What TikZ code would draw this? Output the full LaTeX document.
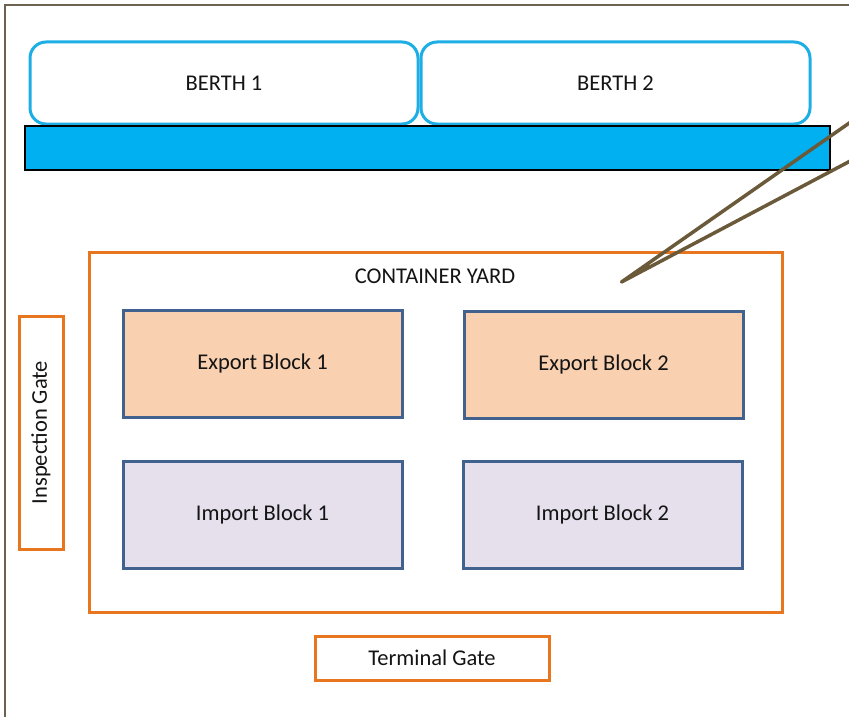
\documentclass[tikz,border=0pt]{standalone}
\usepackage{fontspec}
\setmainfont{Carlito}
\definecolor{frameC}{HTML}{6B6250}
\definecolor{calloutC}{HTML}{6B5A3A}
\definecolor{berthC}{HTML}{1DAEE5}
\definecolor{barC}{HTML}{00B0F0}
\definecolor{orangeC}{HTML}{E8761E}
\definecolor{blockC}{HTML}{41628F}
\definecolor{exportF}{HTML}{F9D0B0}
\definecolor{importF}{HTML}{E5E0EC}
\definecolor{textC}{HTML}{141414}
\tikzset{
  lbl/.style={font=\fontsize{22.5}{27}\selectfont, text=textC},
  berthbox/.style={draw=berthC, line width=3pt, rounded corners=16pt, fill=white, inner sep=0pt, lbl},
  gatebox/.style={draw=orangeC, line width=3pt, fill=white, inner sep=0pt, lbl},
  blockbox/.style={draw=blockC, line width=3pt, inner sep=0pt, lbl, minimum width=279pt, minimum height=107pt},
}
\begin{document}
\begin{tikzpicture}[x=1pt,y=-1pt]
\useasboundingbox (0,0) rectangle (849,717);
\clip (0,0) rectangle (849,717);
\fill[white] (0,0) rectangle (849,717);
% frame
\draw[frameC, line width=2pt] (5,717) -- (5,5) -- (849,5);
% berths
\node[berthbox, minimum width=388pt, minimum height=82pt] (b1) at (224,83) {BERTH 1};
\node[berthbox, minimum width=389pt, minimum height=82pt] (b2) at (615.5,83) {BERTH 2};
% quay bar
\node[draw=black, line width=2.5pt, fill=barC, minimum width=805pt, minimum height=44pt, inner sep=0pt] (bar) at (427.5,148) {};
% container yard
\node[gatebox, minimum width=693pt, minimum height=360pt] (yard) at (435.5,432) {};
\node[lbl] (yardlbl) at (435,276) {CONTAINER YARD};
% blocks
\node[blockbox, fill=exportF] (e1) at (262.5,363.5) {Export Block 1};
\node[blockbox, fill=exportF] (e2) at (603.5,364.5) {Export Block 2};
\node[blockbox, fill=importF] (i1) at (262.5,514.5) {Import Block 1};
\node[blockbox, fill=importF] (i2) at (602.5,514.5) {Import Block 2};
% gates
\node[gatebox, minimum width=44pt, minimum height=233pt] (insp) at (41,432.5) {};
\node[lbl, rotate=90] (insplbl) at (41,432.5) {Inspection Gate};
\node[gatebox, minimum width=234pt, minimum height=44pt] (term) at (432,658) {Terminal Gate};
% callout
\coordinate (tip) at (621.5,282);
\coordinate (c1) at (855,119);
\coordinate (c2) at (855,158.5);
\draw[calloutC, line width=3.5pt, line cap=round, line join=round] (c1) -- (tip) -- (c2);
\end{tikzpicture}
\end{document}
